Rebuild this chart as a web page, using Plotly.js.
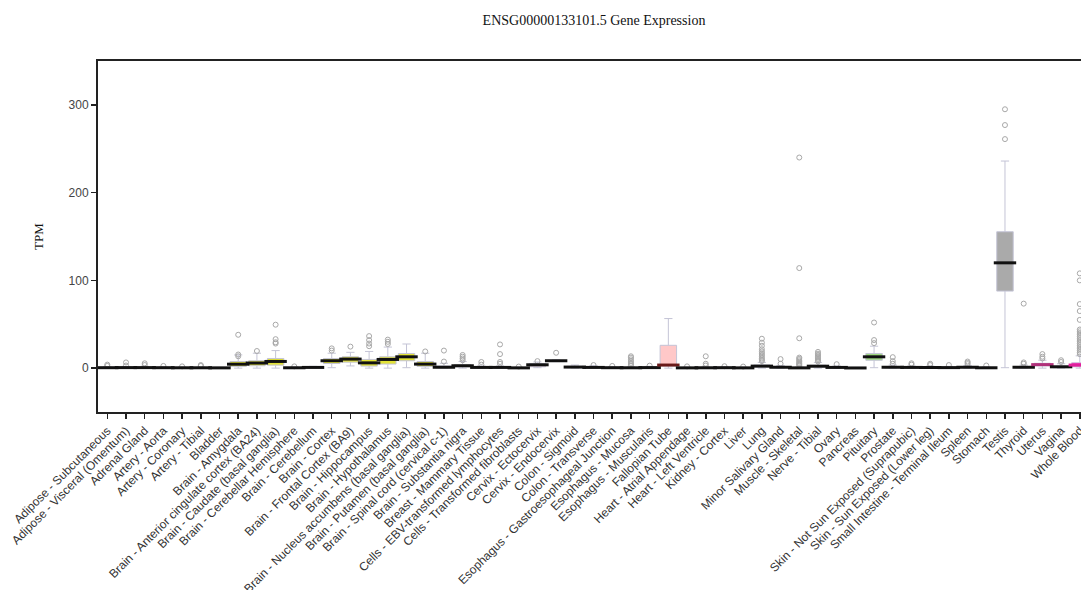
<!DOCTYPE html>
<html>
<head>
<meta charset="utf-8">
<script src="https://cdn.plot.ly/plotly-3.0.1.min.js"></script>
<style>
html,body{margin:0;padding:0;overflow:hidden;background:#fff;}
#chart{width:1140px;height:590px;}
</style>
</head>
<body>
<div id="chart"></div>
<script>
var tissues = [
  "Adipose - Subcutaneous","Adipose - Visceral (Omentum)","Adrenal Gland","Artery - Aorta",
  "Artery - Coronary","Artery - Tibial","Bladder","Brain - Amygdala",
  "Brain - Anterior cingulate cortex (BA24)","Brain - Caudate (basal ganglia)",
  "Brain - Cerebellar Hemisphere","Brain - Cerebellum","Brain - Cortex",
  "Brain - Frontal Cortex (BA9)","Brain - Hippocampus","Brain - Hypothalamus",
  "Brain - Nucleus accumbens (basal ganglia)","Brain - Putamen (basal ganglia)",
  "Brain - Spinal cord (cervical c-1)","Brain - Substantia nigra","Breast - Mammary Tissue",
  "Cells - EBV-transformed lymphocytes","Cells - Transformed fibroblasts","Cervix - Ectocervix",
  "Cervix - Endocervix","Colon - Sigmoid","Colon - Transverse",
  "Esophagus - Gastroesophageal Junction","Esophagus - Mucosa","Esophagus - Muscularis",
  "Fallopian Tube","Heart - Atrial Appendage","Heart - Left Ventricle","Kidney - Cortex",
  "Liver","Lung","Minor Salivary Gland","Muscle - Skeletal","Nerve - Tibial","Ovary",
  "Pancreas","Pituitary","Prostate","Skin - Not Sun Exposed (Suprapubic)",
  "Skin - Sun Exposed (Lower leg)","Small Intestine - Terminal Ileum","Spleen","Stomach",
  "Testis","Thyroid","Uterus","Vagina","Whole Blood"
];

var q1Values     = [0.2,0.3,0.3,0.2,0.2,0.2,0.1,2,2.7,3.4,0.2,0.4,5.3,6.8,2.3,4.6,8.4,2,0.3,1.5,0.3,0.3,0.1,1.5,7.8,0.5,0.3,0.2,0.1,0.2,2.5,0.1,0.1,0.2,0.1,1.2,0.4,0.05,1.2,0.3,0.05,9,0.4,0.3,0.3,0.2,0.4,0.1,87.8,0.4,2.5,0.5,1.5];
var medianValues = [0.5,0.6,0.6,0.5,0.4,0.4,0.3,4.5,5.8,7.6,0.4,0.8,8.4,10.3,6,9.9,12.9,4.6,1,2.7,0.8,0.8,0.3,3.8,8.4,1.2,0.8,0.5,0.4,0.6,3.5,0.3,0.4,0.5,0.3,2.3,1,0.3,2.2,0.8,0.2,12.9,1,0.8,0.7,0.6,1,0.4,120,1,4,1.5,3.5];
var q3Values     = [0.8,1,1,0.8,0.7,0.7,0.5,7.5,8.4,11,0.7,1.2,11,12.9,9.9,12.9,16.7,7.5,2.5,4,1.3,1.3,0.6,5.3,8.9,2,1.4,0.9,0.8,1,26,0.6,0.8,0.9,0.6,3.5,1.6,0.7,3.3,1.3,0.4,16.7,1.8,1.3,1.2,1,1.6,0.8,155.4,1.7,5.5,2.5,6];
var lowerValues  = [0,0,0,0,0,0,0,0,0,0,0,0,0.5,2.5,0,0,0.5,0,0,0,0,0,0,0.5,7.5,0,0,0,0,0,0,0,0,0,0,0,0,0,0,0,0,0.5,0,0,0,0,0,0,0.5,0,0,0,0];
var upperValues  = [1.6,2,2,1.5,1.3,1.3,0.8,15,17,20,1.2,2,17,18,19,24,27.5,17,5.5,7.5,2.5,2.5,1,7,9.5,3.5,2.8,1.8,1.6,2,56.5,1.2,1.5,1.6,1.2,6.5,3,1.3,6.5,2.5,0.8,25,3.5,2.5,2.3,2,3,1.5,236,3.5,9,5,14];

var outlierValues = [
  [2.5,4],[3,6.5],[3.5,5.5],[2.5],[2],[2.5,3.5],[],
  [13.5,15.5,38],[19.5],[28,29.5,33,49.5],[2],[],[20,22.5],[24.5],[25,28,32,36.5],[27.5,30,32.5],[],[19],[7.5,20],[9,11,13,15],
  [4,7],[5,7,16,27],[1.8],[8],[17.5],[],[3.5],[2.5],[3,4.5,6,8,10,12,13.5],[2.8],
  [],[2],[3,5,13.5],[2.2],[1.8],[8,9.5,11,13,15,17,19,21.5,25.5,29,33.5],[5,10.3],
  [3,4,5,6,7.5,9,10.5,12,34,114,240],[7.5,9,10.5,12,13.5,15,16.5,18.5],[4.5],[],
  [28.5,32,52],[5,8,12.5],[4,5.5],[3.5,5],[3.5],[4.5,6,7.5],[3],
  [261,277,295],[5,6.5,73.5],[11,13,16],[7,9],
  [16,18,20,22,24,26,28,30,32,34,36,38,40,42,44,55,65,73,100,108]
];

var boxColors = [
  "#FFA54F","#EE9A00","#8FBC8F","#8B1C62","#EE6A50","#FF0000","#CDB79E",
  "#E2E238","#E2E238","#E2E238","#E2E238","#E2E238","#E2E238","#E2E238","#E2E238","#E2E238","#E2E238","#E2E238","#E2E238","#E2E238",
  "#00CDCD","#EE82EE","#9AC0CD","#F2C8C8","#FFE4E1","#CDB79E","#EEC591","#8B7355","#8B7355","#CDAA7D",
  "#FFC8C8","#B452CD","#7A378B","#CDB79E","#CDB79E","#9ACD32","#CDB79E","#7A67EE","#FFD700","#FFB6C1",
  "#CD9B1D","#9ED880","#D9D9D9","#3A5FCD","#1E90FF","#CDB79E","#CDB79E","#FFD39B",
  "#AAAAAA","#008B45","#E040C0","#EED5D2","#FF00BB"
];
var medianColors = tissues.map(function(t){
  if (t === "Uterus") return "#B0307A";
  if (t === "Whole Blood") return "#E0209A";
  if (t === "Fallopian Tube") return "#6A1A1A";
  return "#111111";
});

var traces = [];
for (var i = 0; i < tissues.length; i++) {
  traces.push({
    type: "box",
    orientation: "v",
    x: [tissues[i]],
    q1: [q1Values[i]],
    median: [medianValues[i]],
    q3: [q3Values[i]],
    lowerfence: [lowerValues[i]],
    upperfence: [upperValues[i]],
    fillcolor: boxColors[i],
    line: {color: "#C4C4D6", width: 1},
    width: 0.88,
    whiskerwidth: 0.5,
    boxpoints: false,
    hoverinfo: "skip",
    showlegend: false
  });
}

var outX = [], outY = [];
for (var j = 0; j < tissues.length; j++) {
  for (var k = 0; k < outlierValues[j].length; k++) {
    outX.push(tissues[j]);
    outY.push(outlierValues[j][k]);
  }
}
traces.push({
  type: "scatter", mode: "markers", x: outX, y: outY,
  marker: {symbol: "circle-open", size: 5, color: "#A8A8A8", line: {width: 1, color: "#A8A8A8"}},
  hoverinfo: "skip", showlegend: false, cliponaxis: true
});
traces.push({
  type: "scatter", mode: "markers", x: tissues, y: medianValues,
  marker: {symbol: "line-ew", size: 16, color: medianColors, line: {width: 3, color: medianColors}},
  hoverinfo: "skip", showlegend: false, cliponaxis: true
});

var layout = {
  width: 1140, height: 590,
  margin: {l: 98, r: 20, t: 61, b: 178},
  paper_bgcolor: "#ffffff", plot_bgcolor: "#ffffff",
  showlegend: false,
  boxmode: "overlay",
  title: {
    text: "ENSG00000133101.5 Gene Expression",
    font: {family: "Liberation Serif, Times New Roman, serif", size: 14, color: "#111"},
    xref: "container", x: 594/1140, xanchor: "center",
    yref: "container", y: 1 - 20/590, yanchor: "middle"
  },
  xaxis: {
    type: "category",
    categoryorder: "array", categoryarray: tissues,
    range: [-0.497, 54.15],
    showline: true, linecolor: "#222", linewidth: 2, mirror: true,
    ticks: "outside", ticklen: 5, tickwidth: 1.5, tickcolor: "#222",
    tickangle: -45,
    tickfont: {family: "Liberation Sans, Arial, sans-serif", size: 12, color: "#333"},
    showgrid: false, zeroline: false, automargin: false, fixedrange: true
  },
  yaxis: {
    range: [-50, 350],
    tickvals: [0, 100, 200, 300],
    showline: true, linecolor: "#222", linewidth: 2, mirror: true,
    ticks: "outside", ticklen: 5, tickwidth: 1.5, tickcolor: "#222",
    tickfont: {family: "Liberation Sans, Arial, sans-serif", size: 12, color: "#444"},
    showgrid: false, zeroline: false, automargin: false, fixedrange: true,
    title: {text: "TPM", standoff: 22, font: {family: "Liberation Serif, Times New Roman, serif", size: 13, color: "#111"}}
  }
};

Plotly.newPlot("chart", traces, layout, {displayModeBar: false, staticPlot: true});
</script>
</body>
</html>
